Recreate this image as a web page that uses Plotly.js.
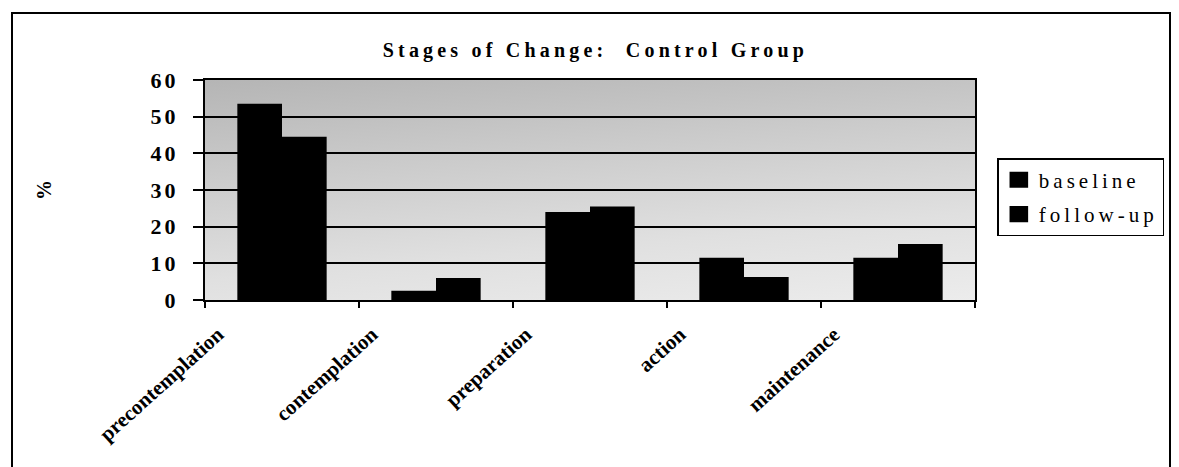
<!DOCTYPE html>
<html>
<head>
<meta charset="utf-8">
<script src="https://cdn.plot.ly/plotly-3.0.1.min.js"></script>
<style>
  html, body { margin: 0; padding: 0; background: #ffffff; }
  #wrap { position: relative; width: 1179px; height: 467px; overflow: hidden; background: #ffffff; }
  #bgtex { position: absolute; left: 205px; top: 80px; width: 770px; height: 220px;
           background: linear-gradient(175deg, #b5b5b5 0%, #cbcbcb 35%, #e0e0e0 70%, #ececec 100%); }
  #chart { position: absolute; left: 0; top: 0; width: 1179px; height: 467px; }
  #frame { position: absolute; left: 11px; top: 12px; width: 1156px; height: 470px;
           border: 2px solid #000; pointer-events: none; }
  .gtitle { letter-spacing: 4.2px; }
  .ytick text { letter-spacing: 3px; }
  .legendtext { letter-spacing: 4px; }
  .legendpoints path { transform: translate(20px, 0px) scale(1.55, 1.35); }
</style>
</head>
<body>
<div id="wrap">
  <div id="bgtex"></div>
  <div id="chart"></div>
  <div id="frame"></div>
</div>
<script>
const categories = ["precontemplation", "contemplation", "preparation", "action", "maintenance"];
const baseline = [53.5, 2.5, 24, 11.5, 11.5];
const followUp = [44.5, 6, 25.5, 6.3, 15.3];
const yTicks = [0, 10, 20, 30, 40, 50, 60];
const seriesNames = ["baseline", "follow-up"];

const serif = "Liberation Serif, Times New Roman, serif";

const traces = [
  { type: "bar", name: seriesNames[0], x: categories, y: baseline, legendgroup: "a",
    marker: { color: "#000000", line: { width: 0 } } },
  { type: "bar", name: seriesNames[1], x: categories, y: followUp, legendgroup: "b",
    marker: { color: "#000000", line: { width: 0 } } }
];

const layout = {
  width: 1179, height: 467,
  margin: { l: 205, r: 204, t: 80, b: 167, pad: 0 },
  paper_bgcolor: "rgba(0,0,0,0)",
  plot_bgcolor: "rgba(0,0,0,0)",
  barmode: "group",
  bargap: 0.42,
  bargroupgap: 0,
  title: { text: "<b>Stages of Change:  Control Group</b>", x: 0.505, xanchor: "center",
           y: 1 - 50 / 467, yanchor: "middle",
           font: { family: serif, size: 20, color: "#000" } },
  xaxis: {
    type: "category",
    tickson: "boundaries",
    tickvals: categories,
    ticktext: categories.map(c => "<b>" + c + "</b>"),
    ticks: "outside", ticklen: 6, tickwidth: 2, tickcolor: "#000",
    showline: true, linecolor: "#000", linewidth: 2, mirror: true,
    showgrid: false,
    tickangle: -42,
    ticklabelshift: -64,
    ticklabelstandoff: 12,
    tickfont: { family: serif, size: 21, color: "#000" },
    automargin: false
  },
  yaxis: {
    range: [0, 60],
    tickvals: yTicks,
    ticktext: yTicks.map(v => "<b>" + v + "</b>"),
    ticks: "outside", ticklen: 10, tickwidth: 2, tickcolor: "#000",
    showline: true, linecolor: "#000", linewidth: 2, mirror: true,
    showgrid: true, gridcolor: "#000", gridwidth: 2,
    zeroline: false,
    ticklabelstandoff: 10,
    tickfont: { family: serif, size: 22, color: "#000" },
    title: { text: "<b>%</b>", standoff: 94, font: { family: serif, size: 20, color: "#000" } },
    automargin: false
  },
  legend: {
    x: 1.029, xanchor: "left", y: 0.645, yanchor: "top",
    bordercolor: "#000", borderwidth: 1.5, bgcolor: "#ffffff",
    font: { family: serif, size: 21, color: "#000" },
    traceorder: "grouped", tracegroupgap: 4,
    itemwidth: 30
  },
  showlegend: true
};

Plotly.newPlot("chart", traces, layout, { displayModeBar: false, staticPlot: true });
</script>
</body>
</html>
